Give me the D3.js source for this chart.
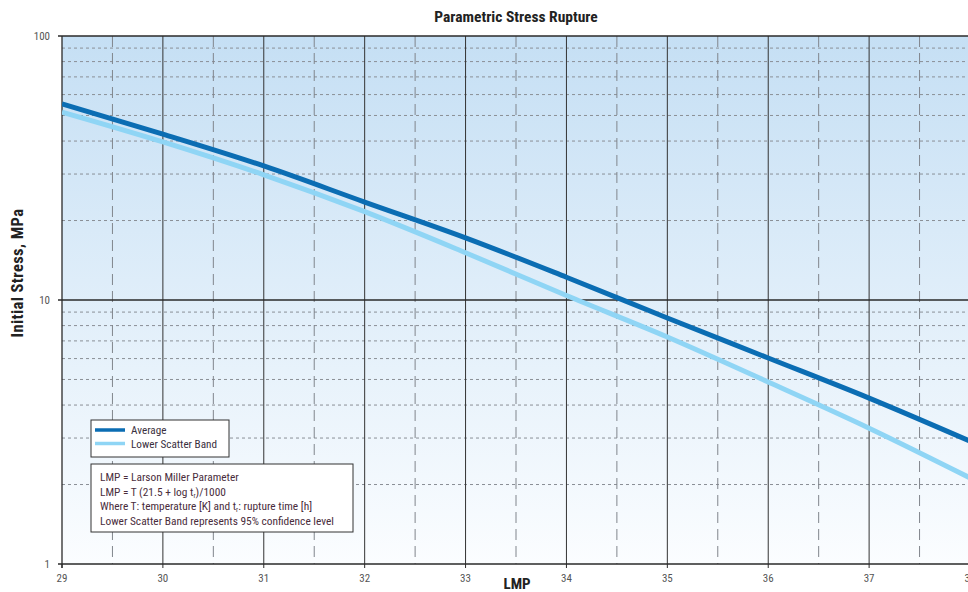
<!DOCTYPE html>
<html><head><meta charset="utf-8">
<script src="https://cdn.jsdelivr.net/npm/d3@7"></script>
<style>
html,body{margin:0;padding:0;background:#fff;}
svg{display:block;font-family:"Liberation Sans Narrow","Arial Narrow","Roboto Condensed","Liberation Sans",sans-serif;}
</style></head>
<body>
<svg id="chart" width="968" height="592"></svg>
<script>
const lmp = [29, 30, 31, 32, 33, 34, 35, 36, 37, 38];
const averageStress = [55.3, 42.5, 32.2, 23.5, 17.2, 12.2, 8.55, 6.03, 4.25, 2.92];
const lowerBandStress = [51.5, 39.7, 29.8, 21.6, 15.1, 10.4, 7.24, 4.89, 3.27, 2.12];
const xTicks = [29, 30, 31, 32, 33, 34, 35, 36, 37, 38];
const yTicks = [1, 10, 100];
const legendLabels = ["Average", "Lower Scatter Band"];
const noteLines = ["LMP = Larson Miller Parameter", "LMP = T (21.5 + log t", "Where T: temperature [K] and t", "Lower Scatter Band represents 95% confidence level"];

const svg = d3.select("#chart");
const L = 62, R = 970, T = 36, B = 564;
const x = d3.scaleLinear().domain([29, 38]).range([L, R]);
const y = d3.scaleLog().domain([1, 100]).range([B, T]);

const defs = svg.append("defs");
const grad = defs.append("linearGradient").attr("id", "bg").attr("x1", 0).attr("y1", 0).attr("x2", 0).attr("y2", 1);
grad.append("stop").attr("offset", "0%").attr("stop-color", "#c5dff4");
grad.append("stop").attr("offset", "100%").attr("stop-color", "#fbfdff");
defs.append("clipPath").attr("id", "clip").append("rect").attr("x", L).attr("y", T).attr("width", R - L).attr("height", B - T);

svg.append("rect").attr("x", L).attr("y", T).attr("width", R - L).attr("height", B - T).attr("fill", "url(#bg)");

// horizontal minor gridlines
const minorY = [];
[1, 10].forEach(d => { for (let k = 2; k <= 9; k++) minorY.push(d * k); });
svg.append("g").selectAll("line").data(minorY).join("line")
  .attr("x1", L).attr("x2", R).attr("y1", d => y(d)).attr("y2", d => y(d))
  .attr("stroke", "#8a8f96").attr("stroke-width", 1).attr("stroke-dasharray", "3,3");

// vertical half gridlines
const halfX = d3.range(29.5, 38, 1);
svg.append("g").selectAll("line").data(halfX).join("line")
  .attr("x1", d => x(d)).attr("x2", d => x(d)).attr("y1", T).attr("y2", B)
  .attr("stroke", "#80858c").attr("stroke-width", 1).attr("stroke-dasharray", "11,6");

// vertical major gridlines
svg.append("g").selectAll("line").data(xTicks.slice(1)).join("line")
  .attr("x1", d => x(d)).attr("x2", d => x(d)).attr("y1", T).attr("y2", B)
  .attr("stroke", "#333", ).attr("stroke-width", 1);

// horizontal major
svg.append("g").selectAll("line").data(yTicks).join("line")
  .attr("x1", L - 4).attr("x2", R).attr("y1", d => y(d)).attr("y2", d => y(d))
  .attr("stroke", "#2a2a2a").attr("stroke-width", 1.3);

// left axis line
svg.append("line").attr("x1", L).attr("x2", L).attr("y1", T).attr("y2", B + 4).attr("stroke", "#2a2a2a").attr("stroke-width", 1.3);

// x tick marks
svg.append("g").selectAll("line").data(xTicks).join("line")
  .attr("x1", d => x(d)).attr("x2", d => x(d)).attr("y1", B).attr("y2", B + 4)
  .attr("stroke", "#2a2a2a").attr("stroke-width", 1);

// tick labels
svg.append("g").selectAll("text").data(xTicks).join("text")
  .attr("x", d => x(d)).attr("y", 582).attr("text-anchor", "middle")
  .attr("font-size", 11).attr("fill", "#555").text(d => d);
svg.append("g").selectAll("text").data(yTicks).join("text")
  .attr("x", 50).attr("y", d => y(d) + 4).attr("text-anchor", "end")
  .attr("font-size", 11).attr("fill", "#555").text(d => d);

// curves
const line = d3.line().x((d, i) => x(lmp[i])).y(d => y(d)).curve(d3.curveMonotoneX);
const curves = svg.append("g").attr("clip-path", "url(#clip)");
curves.append("path").datum(lowerBandStress).attr("d", line).attr("fill", "none").attr("stroke", "#8fd5f5").attr("stroke-width", 5);
curves.append("path").datum(averageStress).attr("d", line).attr("fill", "none").attr("stroke", "#0b6db3").attr("stroke-width", 5);

// title and axis labels
svg.append("text").attr("x", 516).attr("y", 22).attr("text-anchor", "middle")
  .attr("font-size", 15.5).attr("font-weight", "bold").attr("fill", "#222").text("Parametric Stress Rupture");
svg.append("text").attr("x", 517).attr("y", 589).attr("text-anchor", "middle")
  .attr("font-size", 15).attr("font-weight", "bold").attr("fill", "#222").text("LMP");
svg.append("text").attr("transform", "translate(23,273) rotate(-90)").attr("text-anchor", "middle")
  .attr("font-size", 16.5).attr("font-weight", "bold").attr("fill", "#222").attr("letter-spacing", 0.4).text("Initial Stress, MPa");

// legend
const lg = svg.append("g");
lg.append("rect").attr("x", 91).attr("y", 420).attr("width", 138).attr("height", 37).attr("fill", "#fff").attr("stroke", "#333").attr("stroke-width", 1);
const lcol = ["#0b6db3", "#8fd5f5"];
legendLabels.forEach((t, i) => {
  lg.append("line").attr("x1", 95).attr("x2", 125).attr("y1", 430 + i * 13.5).attr("y2", 430 + i * 13.5).attr("stroke", lcol[i]).attr("stroke-width", 3.5);
  lg.append("text").attr("x", 131).attr("y", 434 + i * 13.5).attr("font-size", 11.2).attr("fill", "#3a3040").text(t);
});

// notes
const ng = svg.append("g");
ng.append("rect").attr("x", 91).attr("y", 464).attr("width", 262).attr("height", 68).attr("fill", "#fff").attr("stroke", "#333").attr("stroke-width", 1);
const nfill = "#4a2d3c";
const nfs = 11.4;
ng.append("text").attr("x", 100).attr("y", 481).attr("font-size", nfs).attr("fill", nfill).text(noteLines[0]);
const t2 = ng.append("text").attr("x", 100).attr("y", 495.5).attr("font-size", nfs).attr("fill", nfill);
t2.append("tspan").text(noteLines[1]);
t2.append("tspan").attr("font-size", 7).attr("dy", 2).text("r");
t2.append("tspan").attr("dy", -2).text(")/1000");
const t3 = ng.append("text").attr("x", 100).attr("y", 510).attr("font-size", nfs).attr("fill", nfill);
t3.append("tspan").text(noteLines[2]);
t3.append("tspan").attr("font-size", 7).attr("dy", 2).text("r");
t3.append("tspan").attr("dy", -2).text(": rupture time [h]");
ng.append("text").attr("x", 100).attr("y", 524.5).attr("font-size", nfs).attr("fill", nfill).text(noteLines[3]);
</script>
</body></html>
